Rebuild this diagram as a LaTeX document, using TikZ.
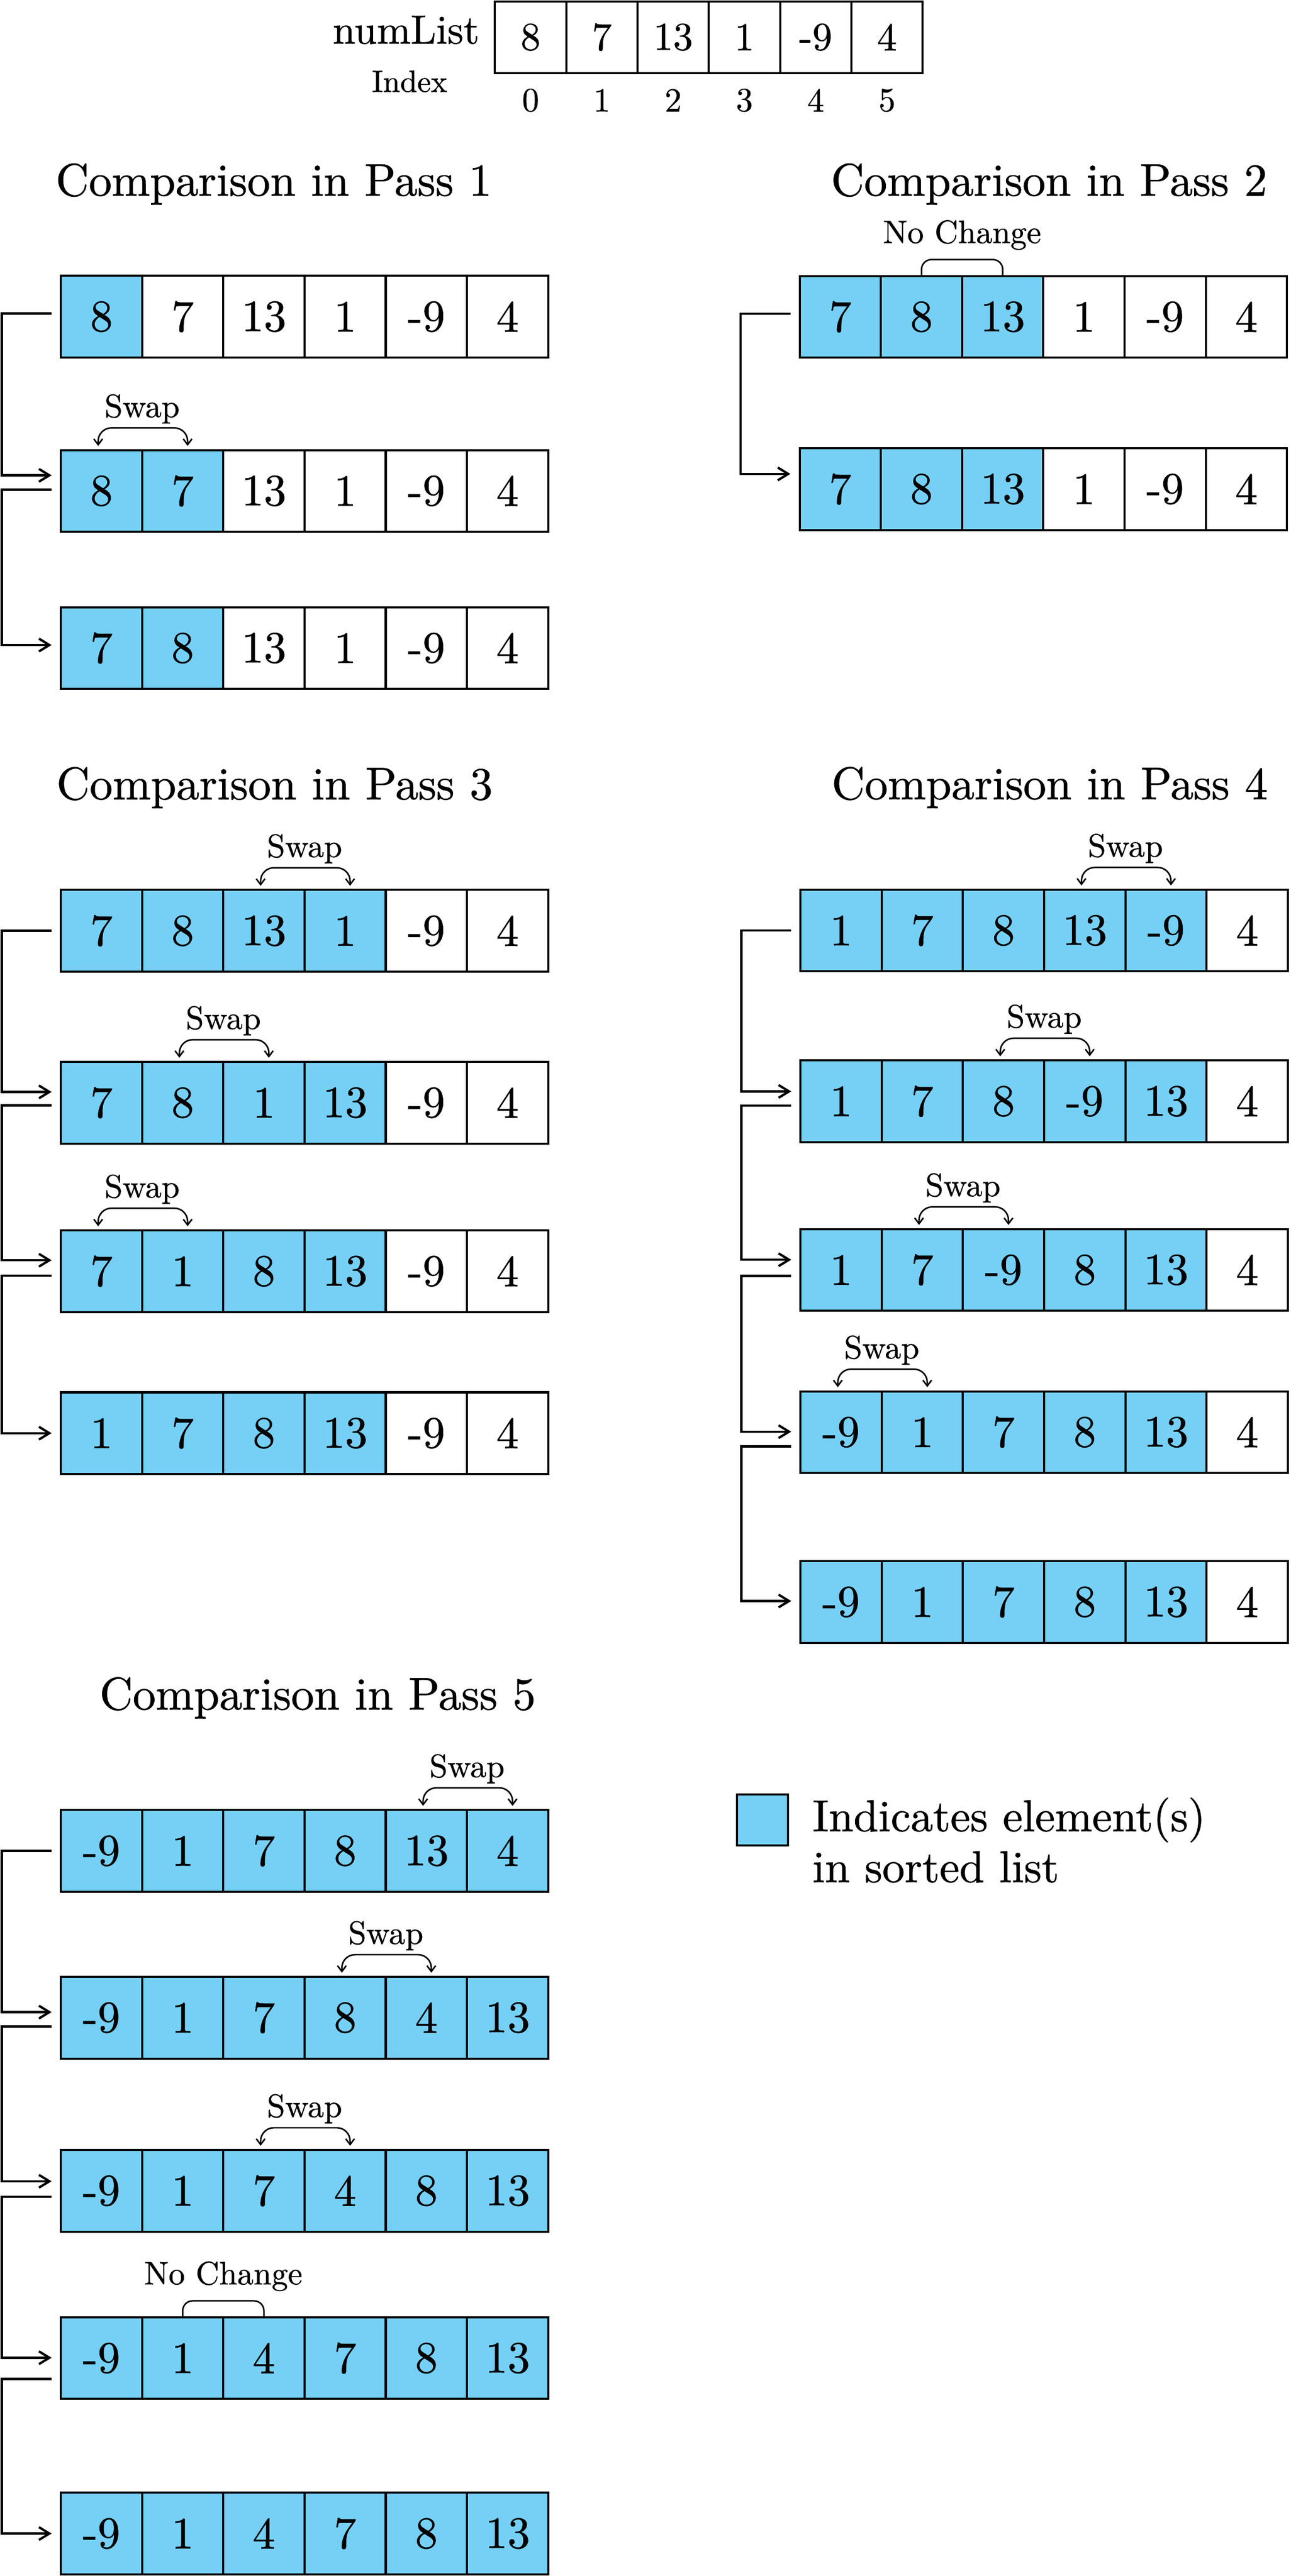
\documentclass[tikz,border=0pt]{standalone}
\usepackage{fontspec}
\setmainfont{lmroman10-regular.otf}[FakeBold=0.8]
\usetikzlibrary{arrows.meta,calc}
\definecolor{cellblue}{RGB}{118,208,245}
\tikzset{
 cell/.style={draw=black, line width=1.8pt, minimum width=2.4581cm, minimum height=2.4731cm, inner sep=0pt, outer sep=0pt, font=\fontsize{38.5pt}{40pt}\selectfont},
 hcell/.style={draw=black, line width=1.8pt, minimum width=2.1571cm, minimum height=2.1695cm, inner sep=0pt, outer sep=0pt, font=\fontsize{34pt}{36pt}\selectfont},
 conn/.style={line width=2pt, -{Straight Barb[length=9pt,width=11pt]}},
 swaparc/.style={line width=1.3pt, rounded corners=0.4cm, {Straight Barb[length=5pt,width=7.5pt]}-{Straight Barb[length=5pt,width=7.5pt]}},
 nochg/.style={line width=1.3pt, rounded corners=0.3cm},
 lbl/.style={font=\fontsize{28pt}{30pt}\selectfont, inner sep=0pt, anchor=base},
 ptitle/.style={font=\fontsize{39.5pt}{44pt}\selectfont, inner sep=0pt, anchor=base},
 legtext/.style={font=\fontsize{38.5pt}{42pt}\selectfont, inner sep=0pt, anchor=base west},
}
\newcommand{\arow}[5]{%
 \foreach \v [count=\i] in {#5} {%
   \ifnum\i>#4\relax \def\fc{white}\else \def\fc{cellblue}\fi
   \node[cell, fill=\fc] (#1-\i) at ({#2+(\i-0.5)*49.4},{#3+24.85}) {\v};
 }}
\newcommand{\swapmark}[3]{%
  \draw[swaparc] ($(#1-#2.north)+(-2,-2.5)$) -- ++(0,-11) -- ($(#1-#3.north)+(3,-13.5)$) -- ++(0,11);
  \node[lbl] (#1-lab) at ($(#1-#2.north)!0.5!(#1-#3.north)+(0,-20)$) {Swap};
}
\newcommand{\nochange}[3]{%
  \draw[nochg] (#1-#2.north) -- ++(0,-10) -- ($(#1-#3.north)+(0,-10)$) -- (#1-#3.north);
  \node[lbl] (#1-lab) at ($(#1-#2.north)!0.5!(#1-#3.north)+(0,-20)$) {No Change};
}
\newcommand{\conn}[4]{%
  \draw[conn] ($(#1-1.west)+(-5.6,#3)$) -- ++(-30.3,0) |- ($(#2-1.west)+(-5.6,#4)$);
}
\begin{document}
\begin{tikzpicture}[x=0.04976cm,y=-0.04976cm]
\useasboundingbox (0,0) rectangle (785,1567.1);
% header
\foreach \v [count=\i] in {8,7,13,1,-9,4}
  \node[hcell] (h-\i) at ({301+(\i-0.5)*43.35},22.6) {\v};
\foreach \v [count=\i] in {0,1,2,3,4,5}
  \node[inner sep=0pt, font=\fontsize{29pt}{30pt}\selectfont] (ix-\i) at ({301+(\i-0.5)*43.35},61) {\v};
\node[anchor=base east, inner sep=0pt, font=\fontsize{35pt}{36pt}\selectfont] (numlist) at (291.6,26.5) {numList};
\node[anchor=base east, inner sep=0pt, font=\fontsize{26.5pt}{28pt}\selectfont] (index) at (272.1,55.9) {Index};
% titles
\node[ptitle] (t1) at (166.5,119.1) {Comparison in Pass 1};
\node[ptitle] (t2) at (638,119.1) {Comparison in Pass 2};
\node[ptitle] (t3) at (167,486.3) {Comparison in Pass 3};
\node[ptitle] (t4) at (638.4,486.2) {Comparison in Pass 4};
\node[ptitle] (t5) at (193.2,1040) {Comparison in Pass 5};
% pass 1
\arow{p1r1}{37}{167.8}{1}{8,7,13,1,-9,4}
\arow{p1r2}{37}{273.8}{2}{8,7,13,1,-9,4}
\arow{p1r3}{37}{369.4}{2}{7,8,13,1,-9,4}
\swapmark{p1r2}{1}{2}
\conn{p1r1}{p1r2}{-2}{-9.5}
\conn{p1r2}{p1r3}{-0.75}{-1.85}
% pass 2
\arow{p2r1}{486.3}{167.9}{3}{7,8,13,1,-9,4}
\arow{p2r2}{486.3}{272.7}{3}{7,8,13,1,-9,4}
\nochange{p2r1}{2}{3}
\conn{p2r1}{p2r2}{-1.85}{-9.25}
% pass 3
\arow{p3r1}{37}{541.4}{4}{7,8,13,1,-9,4}
\arow{p3r2}{37}{646}{4}{7,8,1,13,-9,4}
\arow{p3r3}{37}{748.5}{4}{7,1,8,13,-9,4}
\arow{p3r4}{37}{847}{4}{1,7,8,13,-9,4}
\swapmark{p3r1}{3}{4}
\swapmark{p3r2}{2}{3}
\swapmark{p3r3}{1}{2}
\conn{p3r1}{p3r2}{0}{-6.6}
\conn{p3r2}{p3r3}{1.6}{-6.7}
\conn{p3r3}{p3r4}{2.7}{0}
% pass 4
\arow{p4r1}{486.8}{541.2}{5}{1,7,8,13,-9,4}
\arow{p4r2}{486.8}{645.1}{5}{1,7,8,-9,13,4}
\arow{p4r3}{486.8}{747.7}{5}{1,7,-9,8,13,4}
\arow{p4r4}{486.8}{846.4}{5}{-9,1,7,8,13,4}
\arow{p4r5}{486.8}{949.7}{5}{-9,1,7,8,13,4}
\swapmark{p4r1}{4}{5}
\swapmark{p4r2}{3}{4}
\swapmark{p4r3}{2}{3}
\swapmark{p4r4}{1}{2}
\conn{p4r1}{p4r2}{0}{-6}
\conn{p4r2}{p4r3}{2.7}{-6.2}
\conn{p4r3}{p4r4}{3.6}{-0.3}
\conn{p4r4}{p4r5}{8.6}{-0.6}
% pass 5
\arow{p5r1}{37}{1101.1}{6}{-9,1,7,8,13,4}
\arow{p5r2}{37}{1202.6}{6}{-9,1,7,8,4,13}
\arow{p5r3}{37}{1307.9}{6}{-9,1,7,4,8,13}
\arow{p5r4}{37}{1409.7}{6}{-9,1,4,7,8,13}
\arow{p5r5}{37}{1516.4}{6}{-9,1,4,7,8,13}
\swapmark{p5r1}{5}{6}
\swapmark{p5r2}{4}{5}
\swapmark{p5r3}{3}{4}
\nochange{p5r4}{2}{3}
\conn{p5r1}{p5r2}{0}{-3.4}
\conn{p5r2}{p5r3}{5.4}{-5.8}
\conn{p5r3}{p5r4}{3.6}{-0.25}
\conn{p5r4}{p5r5}{12.7}{0}
% legend
\node[draw=black, line width=1.8pt, fill=cellblue, minimum size=1.5426cm, inner sep=0pt, outer sep=0pt] (legbox) at (463.8,1107.2) {};
\node[legtext] (leg1) at (494,1114) {Indicates element(s)};
\node[legtext] (leg2) at (494,1145) {in sorted list};
\end{tikzpicture}
\end{document}
